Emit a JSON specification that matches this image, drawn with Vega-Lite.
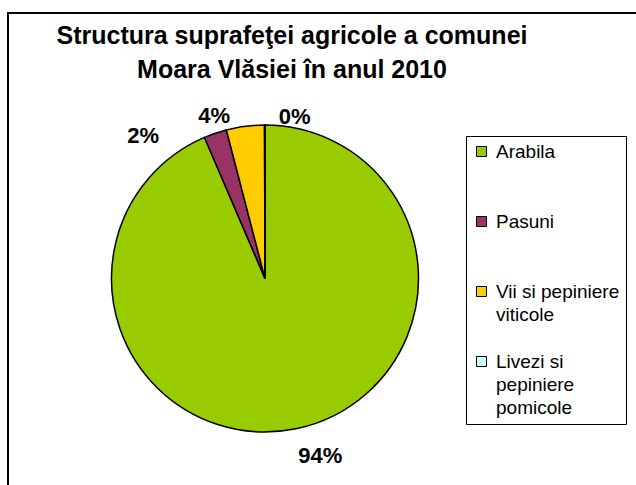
{
  "$schema": "https://vega.github.io/schema/vega-lite/v6.json",
  "width": 632,
  "height": 476,
  "autosize": {"type": "none"},
  "padding": {"left": 8, "top": 13, "right": 0, "bottom": 0},
  "background": "white",
  "view": {"stroke": "black", "strokeWidth": 2, "fill": "white"},
  "config": {"view": {"stroke": "black", "strokeWidth": 2}, "font": "Liberation Sans"},
  "title": {
    "text": ["Structura suprafeţei agricole a comunei", "Moara Vlăsiei în anul 2010"],
    "font": "Liberation Sans",
    "fontSize": 25,
    "fontWeight": "bold",
    "color": "black",
    "anchor": "middle",
    "frame": "group",
    "lineHeight": 34,
    "offset": -70,
    "dx": -32
  },
  "data": {
    "values": [
      {"Categorie": "Arabila", "Procent": 93.55, "Eticheta": "94%", "Ordine": 1},
      {"Categorie": "Pasuni", "Procent": 2.4, "Eticheta": "2%", "Ordine": 2},
      {"Categorie": "Vii si pepiniere viticole", "Procent": 4.0, "Eticheta": "4%", "Ordine": 3},
      {"Categorie": "Livezi si pepiniere pomicole", "Procent": 0.05, "Eticheta": "0%", "Ordine": 4}
    ]
  },
  "layer": [
    {
      "mark": {"type": "arc", "x": 257, "y": 265.5, "outerRadius": 153.5, "stroke": "black", "strokeWidth": 1.5},
      "encoding": {
        "theta": {"field": "Procent", "type": "quantitative", "stack": true},
        "order": {"field": "Ordine", "type": "quantitative"},
        "color": {
          "field": "Categorie",
          "type": "nominal",
          "sort": ["Arabila", "Pasuni", "Vii si pepiniere viticole", "Livezi si pepiniere pomicole"],
          "scale": {
            "domain": ["Arabila", "Pasuni", "Vii si pepiniere viticole", "Livezi si pepiniere pomicole"],
            "range": ["#99CC00", "#993366", "#FFCC00", "#CCFFFF"]
          },
          "legend": {
            "orient": "none",
            "legendX": 458,
            "legendY": 123,
            "title": null,
            "strokeColor": "black",
            "fillColor": "white",
            "padding": 6,
            "symbolType": "square",
            "symbolSize": 100,
            "symbolStrokeColor": "black",
            "symbolStrokeWidth": 1,
            "symbolOpacity": 1,
            "labelFont": "Liberation Sans",
            "labelFontSize": 19,
            "labelColor": "black",
            "labelOffset": 5,
            "labelLimit": 300,
            "rowPadding": 4,
            "labelExpr": "datum.label == 'Vii si pepiniere viticole' ? ['Vii si pepiniere', 'viticole', ''] : datum.label == 'Livezi si pepiniere pomicole' ? ['Livezi si', 'pepiniere', 'pomicole'] : [datum.label, '', '']",
            "encode": {"labels": {"update": {"lineHeight": {"value": 23}}}}
          }
        }
      }
    },
    {
      "mark": {"type": "text", "x": 257, "y": 265.5, "radius": 185, "dx": 18, "dy": -4, "font": "Liberation Sans", "fontSize": 22, "fontWeight": "bold", "color": "black"},
      "encoding": {
        "theta": {"field": "Procent", "type": "quantitative", "stack": true},
        "order": {"field": "Ordine", "type": "quantitative"},
        "detail": {"field": "Categorie", "type": "nominal"},
        "text": {"condition": {"test": "datum.Categorie == 'Arabila'", "field": "Eticheta"}, "value": ""}
      }
    },
    {
      "mark": {"type": "text", "x": 257, "y": 265.5, "radius": 185, "dx": -62, "dy": 33, "font": "Liberation Sans", "fontSize": 22, "fontWeight": "bold", "color": "black"},
      "encoding": {
        "theta": {"field": "Procent", "type": "quantitative", "stack": true},
        "order": {"field": "Ordine", "type": "quantitative"},
        "detail": {"field": "Categorie", "type": "nominal"},
        "text": {"condition": {"test": "datum.Categorie == 'Pasuni'", "field": "Eticheta"}, "value": ""}
      }
    },
    {
      "mark": {"type": "text", "x": 257, "y": 265.5, "radius": 185, "dx": -27, "dy": 21, "font": "Liberation Sans", "fontSize": 22, "fontWeight": "bold", "color": "black"},
      "encoding": {
        "theta": {"field": "Procent", "type": "quantitative", "stack": true},
        "order": {"field": "Ordine", "type": "quantitative"},
        "detail": {"field": "Categorie", "type": "nominal"},
        "text": {"condition": {"test": "datum.Categorie == 'Vii si pepiniere viticole'", "field": "Eticheta"}, "value": ""}
      }
    },
    {
      "mark": {"type": "text", "x": 257, "y": 265.5, "radius": 185, "dx": 30, "dy": 23, "font": "Liberation Sans", "fontSize": 22, "fontWeight": "bold", "color": "black"},
      "encoding": {
        "theta": {"field": "Procent", "type": "quantitative", "stack": true},
        "order": {"field": "Ordine", "type": "quantitative"},
        "detail": {"field": "Categorie", "type": "nominal"},
        "text": {"condition": {"test": "datum.Categorie == 'Livezi si pepiniere pomicole'", "field": "Eticheta"}, "value": ""}
      }
    }
  ]
}
